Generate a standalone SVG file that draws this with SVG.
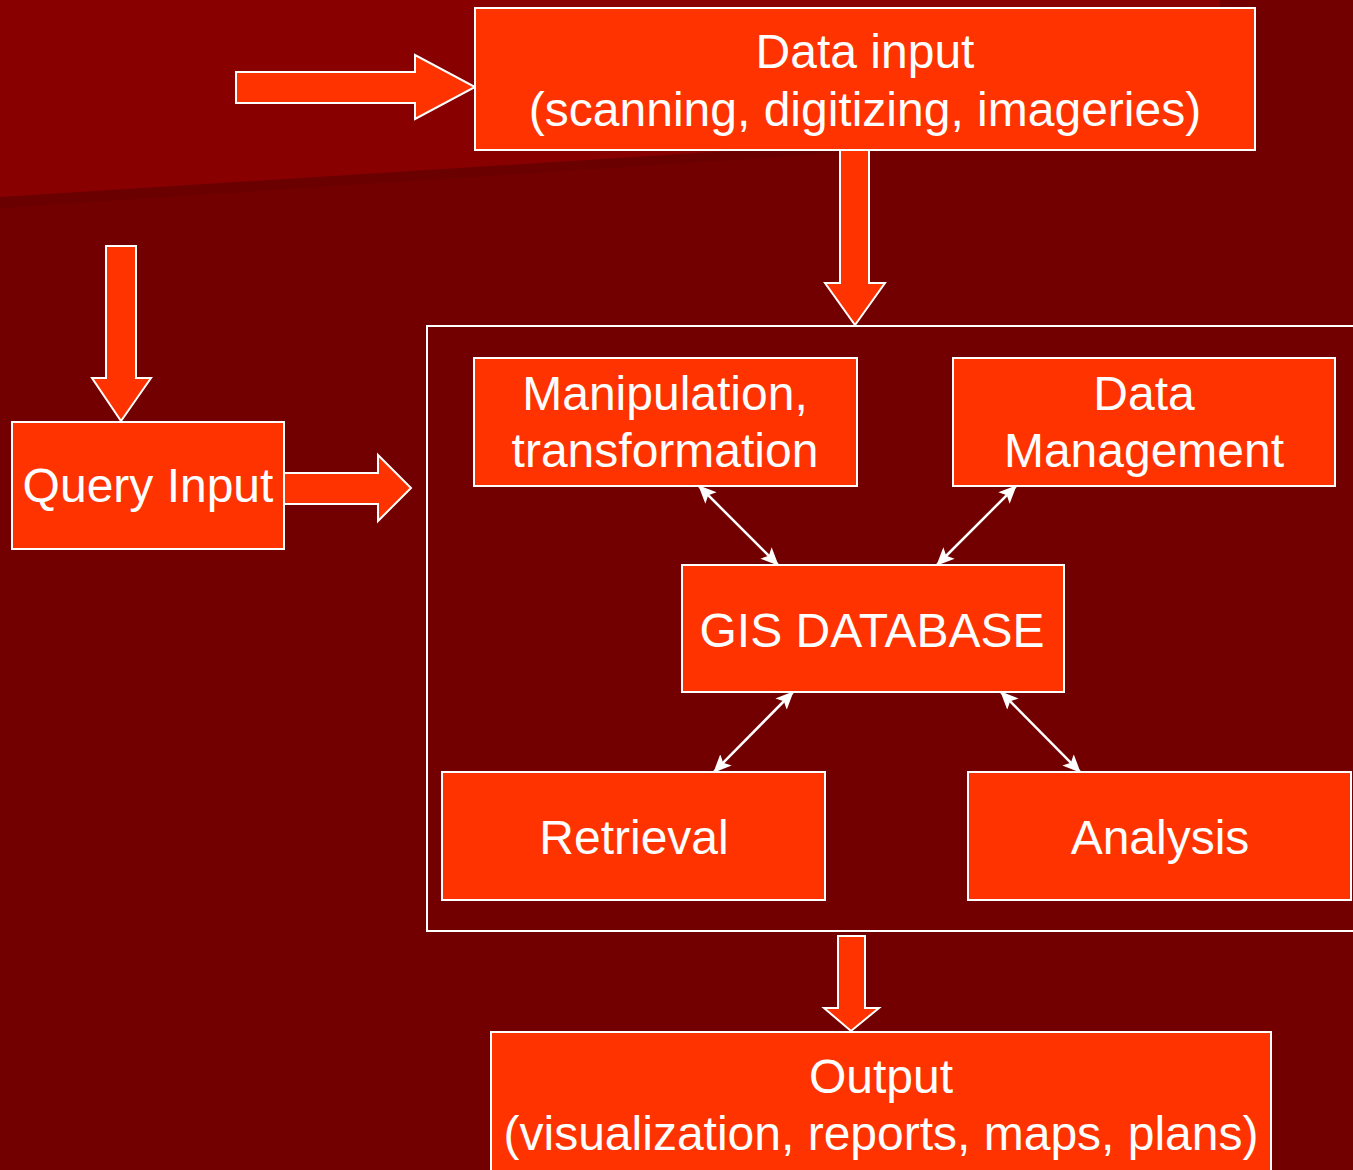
<svg xmlns="http://www.w3.org/2000/svg" width="1353" height="1170" viewBox="0 0 1353 1170">
  <defs>
    <style>
      .box { fill: #FF3300; stroke: #FFFFFF; stroke-width: 2; }
      .blk { fill: #FF3300; stroke: #FFFFFF; stroke-width: 2; stroke-linejoin: miter; }
      .frame { fill: none; stroke: #FFFFFF; stroke-width: 2; }
      .lbl { font-family: "Liberation Sans", Arial, sans-serif; font-size: 48px; fill: #FFFFFF; text-anchor: middle; }
      .link { stroke: #FFFFFF; stroke-width: 2.5; fill: none; marker-start: url(#head); marker-end: url(#head); }
    </style>
    <marker id="head" viewBox="0 0 18 16" refX="17" refY="8" markerWidth="18" markerHeight="16" markerUnits="userSpaceOnUse" orient="auto-start-reverse">
      <path d="M0,0 L18,8 L0,16 L4,8 Z" fill="#FFFFFF"/>
    </marker>
  </defs>

  <rect x="0" y="0" width="1353" height="1170" fill="#720000"/>
  <polygon points="0,0 1220,0 1220,128 0,208" fill="#6a0000"/>
  <polygon points="0,0 1220,0 1220,120 0,197" fill="#880000"/>

  <g id="container">
    <rect class="frame" x="427" y="326" width="940" height="605"/>
  </g>

  <g id="connectors">
    <polygon class="blk" points="236,72 415,72 415,55 475,87 415,119 415,103 236,103"/>
    <polygon class="blk" points="840,150 869,150 869,283 885,283 855,325 825,283 840,283"/>
    <polygon class="blk" points="106,246 136,246 136,378 151,378 121,421 92,378 106,378"/>
    <polygon class="blk" points="284,473 378,473 378,455 411,488 378,521 378,504 284,504"/>
    <polygon class="blk" points="838,936 865,936 865,1008 879,1008 851,1031 824,1008 838,1008"/>
    <line class="link" x1="699" y1="486" x2="778" y2="565"/>
    <line class="link" x1="1016" y1="486" x2="937" y2="565"/>
    <line class="link" x1="793" y1="692" x2="714" y2="772"/>
    <line class="link" x1="1001" y1="692" x2="1080" y2="772"/>
  </g>

  <g id="data-input">
    <rect class="box" x="475" y="8" width="780" height="142"/>
    <text class="lbl" x="865" y="68">Data input</text>
    <text class="lbl" x="865" y="126">(scanning, digitizing, imageries)</text>
  </g>

  <g id="query-input">
    <rect class="box" x="12" y="422" width="272" height="127"/>
    <text class="lbl" x="148" y="502">Query Input</text>
  </g>

  <g id="manipulation">
    <rect class="box" x="474" y="358" width="383" height="128"/>
    <text class="lbl" x="665" y="410">Manipulation,</text>
    <text class="lbl" x="665" y="467">transformation</text>
  </g>

  <g id="data-management">
    <rect class="box" x="953" y="358" width="382" height="128"/>
    <text class="lbl" x="1144" y="410">Data</text>
    <text class="lbl" x="1144" y="467">Management</text>
  </g>

  <g id="gis-database">
    <rect class="box" x="682" y="565" width="382" height="127"/>
    <text class="lbl" x="872" y="647">GIS DATABASE</text>
  </g>

  <g id="retrieval">
    <rect class="box" x="442" y="772" width="383" height="128"/>
    <text class="lbl" x="634" y="854">Retrieval</text>
  </g>

  <g id="analysis">
    <rect class="box" x="968" y="772" width="383" height="128"/>
    <text class="lbl" x="1160" y="854">Analysis</text>
  </g>

  <g id="output">
    <rect class="box" x="491" y="1032" width="780" height="160"/>
    <text class="lbl" x="881" y="1093">Output</text>
    <text class="lbl" x="881" y="1150">(visualization, reports, maps, plans)</text>
  </g>
</svg>
